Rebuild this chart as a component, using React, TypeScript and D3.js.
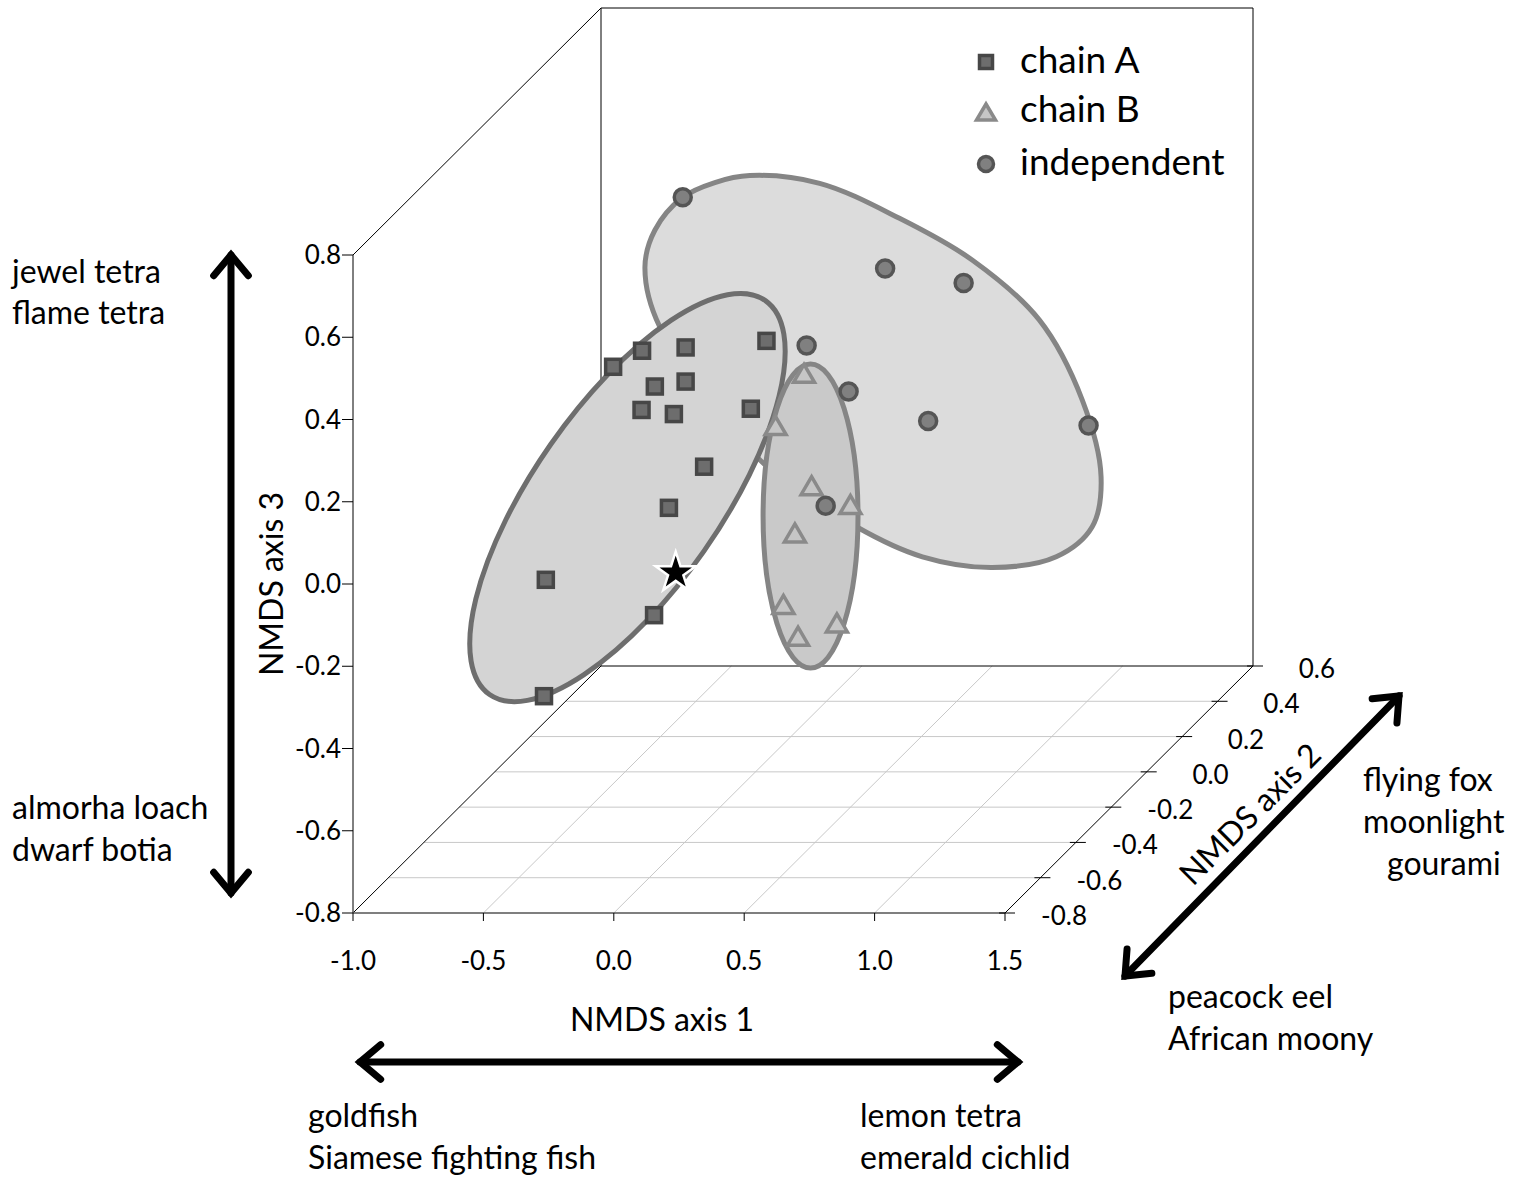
import React from 'react';
import * as d3 from 'd3';

// NMDS scores (axis 1, axis 3), all drawn on the axis-2 = 0 plane
const chainA: [number, number][] = [
  [-0.546, 0.185], [-0.435, 0.224], [-0.268, 0.232], [0.042, 0.248],
  [-0.386, 0.137], [-0.268, 0.149], [-0.437, 0.08], [-0.313, 0.07],
  [-0.018, 0.083], [-0.197, -0.058], [-0.332, -0.158], [-0.804, -0.333],
  [-0.389, -0.419], [-0.811, -0.616],
];
const chainB: [number, number][] = [
  [0.186, 0.169], [0.077, 0.042], [0.215, -0.104], [0.364, -0.15],
  [0.151, -0.219], [0.107, -0.393], [0.163, -0.47], [0.312, -0.438],
];
const independent: [number, number][] = [
  [-0.279, 0.597], [0.196, 0.237], [0.497, 0.424], [0.798, 0.389],
  [0.357, 0.125], [0.662, 0.053], [1.277, 0.042], [0.269, -0.153],
];
const starPoint: [number, number] = [-0.306, -0.316];

// group envelopes
const ellipseA = { cx: -0.491, cz: -0.133, major: 0.922, minor: 0.358, angle: 55 };
const ellipseB = { cx: 0.211, cz: -0.178, major: 0.583, minor: 0.182, angle: 90 };
const independentHull: [number, number][] = [
  [-0.279, 0.597], [-0.156, 0.633], [-0.022, 0.65], [0.246, 0.631], [0.552, 0.546],
  [0.832, 0.444], [1.088, 0.299], [1.253, 0.104], [1.325, -0.083], [1.291, -0.204],
  [1.153, -0.277], [0.908, -0.303], [0.64, -0.277], [0.387, -0.204], [0.016, -0.041],
  [-0.367, 0.282], [-0.424, 0.427], [-0.386, 0.517],
];

const axis1Ticks = [-1.0, -0.5, 0.0, 0.5, 1.0, 1.5];
const axis2Ticks = [-0.8, -0.6, -0.4, -0.2, 0.0, 0.2, 0.4, 0.6];
const axis3Ticks = [-0.8, -0.6, -0.4, -0.2, 0.0, 0.2, 0.4, 0.6, 0.8];

const legendItems = ['chain A', 'chain B', 'independent'];

const FONT = "Lato, 'Open Sans', sans-serif";

const x = d3.scaleLinear().domain([-1, 1.5]).range([353, 1005]);
const z = d3.scaleLinear().domain([-0.8, 0.8]).range([913, 255]);
const depthX = d3.scaleLinear().domain([-0.8, 0.6]).range([0, 248]);
const depthY = d3.scaleLinear().domain([-0.8, 0.6]).range([0, -247]);
const unitPx = x(1) - x(0);

const project = (a1: number, a2: number, a3: number): [number, number] => [
  x(a1) + depthX(a2),
  z(a3) + depthY(a2),
];
const onPlane = (p: [number, number]) => project(p[0], 0, p[1]);

// plain hyphen for negatives, like the original
const fmt = (v: number) => v.toFixed(1);

const Square = ({ p, s = 15 }: { p: [number, number]; s?: number }) => (
  <rect x={p[0] - s / 2} y={p[1] - s / 2} width={s} height={s}
    fill="#6d6d6d" stroke="#474747" strokeWidth={3.5} />
);
const Circle = ({ p, r = 8.5 }: { p: [number, number]; r?: number }) => (
  <circle cx={p[0]} cy={p[1]} r={r} fill="#808080" stroke="#555" strokeWidth={3.5} />
);
const Triangle = ({ p, w = 21, h = 18 }: { p: [number, number]; w?: number; h?: number }) => (
  <polygon
    points={`${p[0]},${p[1] - h / 2} ${p[0] + w / 2},${p[1] + h / 2} ${p[0] - w / 2},${p[1] + h / 2}`}
    fill="#c6c6c6" stroke="#8a8a8a" strokeWidth={3.5} strokeLinejoin="miter" />
);

const Arrow = ({ x1, y1, x2, y2 }: { x1: number; y1: number; x2: number; y2: number }) => {
  const ang = Math.atan2(y2 - y1, x2 - x1);
  const len = 27;
  const spread = (40 * Math.PI) / 180;
  const head = (tx: number, ty: number, dir: number) => {
    const a1 = dir + Math.PI - spread;
    const a2 = dir + Math.PI + spread;
    return `M${tx + len * Math.cos(a1)},${ty + len * Math.sin(a1)}L${tx},${ty}L${tx + len * Math.cos(a2)},${ty + len * Math.sin(a2)}`;
  };
  return (
    <g stroke="#000" strokeWidth={7} fill="none" strokeLinecap="round" strokeLinejoin="miter">
      <line x1={x1} y1={y1} x2={x2} y2={y2} />
      <path d={head(x2, y2, ang)} />
      <path d={head(x1, y1, ang + Math.PI)} />
    </g>
  );
};

export default function App() {
  const hullLine = d3.line().curve(d3.curveCatmullRomClosed.alpha(0.5));
  const hullPath = hullLine(independentHull.map(onPlane)) || '';

  const ellipseEl = (e: typeof ellipseA, fill: string, stroke: string) => {
    const [cx, cy] = onPlane([e.cx, e.cz]);
    return (
      <ellipse cx={cx} cy={cy} rx={e.major * unitPx} ry={e.minor * unitPx}
        transform={`rotate(${-e.angle},${cx},${cy})`}
        fill={fill} stroke={stroke} strokeWidth={5} />
    );
  };

  const star = d3.symbol(d3.symbolStar, 500)() || '';
  const sp = onPlane(starPoint);

  const frontLeftBottom = project(-1, -0.8, -0.8);
  const frontRightBottom = project(1.5, -0.8, -0.8);
  const backLeftBottom = project(-1, 0.6, -0.8);
  const backRightBottom = project(1.5, 0.6, -0.8);
  const frontLeftTop = project(-1, -0.8, 0.8);
  const backLeftTop = project(-1, 0.6, 0.8);
  const backRightTop = project(1.5, 0.6, 0.8);

  const big = 32;
  const tickSize = 26;

  return (
    <svg width={1528} height={1182} style={{ position: 'absolute', left: 0, top: 0, background: '#fff' }}
      fontFamily={FONT}>
      {/* floor grid */}
      <g stroke="#c8c8c8" strokeWidth={1}>
        {axis2Ticks.slice(1, -1).map(d => {
          const a = project(-1, d, -0.8);
          const b = project(1.5, d, -0.8);
          return <line key={'g2' + d} x1={a[0]} y1={a[1]} x2={b[0]} y2={b[1]} />;
        })}
        {axis1Ticks.slice(1, -1).map(v => {
          const a = project(v, -0.8, -0.8);
          const b = project(v, 0.6, -0.8);
          return <line key={'g1' + v} x1={a[0]} y1={a[1]} x2={b[0]} y2={b[1]} />;
        })}
      </g>

      {/* box frame */}
      <g stroke="#000" strokeWidth={1} fill="none">
        <line x1={frontLeftBottom[0]} y1={frontLeftBottom[1]} x2={backLeftBottom[0]} y2={backLeftBottom[1]} />
        <line x1={frontRightBottom[0]} y1={frontRightBottom[1]} x2={backRightBottom[0]} y2={backRightBottom[1]} />
        <line x1={frontLeftTop[0]} y1={frontLeftTop[1]} x2={backLeftTop[0]} y2={backLeftTop[1]} />
        <polygon points={[backLeftBottom, backRightBottom, backRightTop, backLeftTop].map(p => p.join(',')).join(' ')} />
        <line x1={frontLeftBottom[0]} y1={frontLeftBottom[1]} x2={frontLeftTop[0]} y2={frontLeftTop[1]} />
        <line x1={frontLeftBottom[0]} y1={frontLeftBottom[1]} x2={frontRightBottom[0]} y2={frontRightBottom[1]} stroke="#555" strokeWidth={1.5} />
      </g>

      {/* axis 3 ticks */}
      <g>
        {axis3Ticks.map(v => (
          <g key={'t3' + v}>
            <line x1={x(-1) - 11} x2={x(-1)} y1={z(v)} y2={z(v)} stroke="#000" />
            <text x={x(-1) - 12} y={z(v)} dy="0.35em" textAnchor="end" fontSize={tickSize}>{fmt(v)}</text>
          </g>
        ))}
      </g>
      {/* axis 1 ticks */}
      <g>
        {axis1Ticks.map(v => (
          <g key={'t1' + v}>
            <line x1={x(v)} x2={x(v)} y1={z(-0.8)} y2={z(-0.8) + 8} stroke="#000" />
            <text x={x(v)} y={970} textAnchor="middle" fontSize={tickSize}>{fmt(v)}</text>
          </g>
        ))}
      </g>
      {/* axis 2 ticks */}
      <g>
        {axis2Ticks.map(d => {
          const p = project(1.5, d, -0.8);
          return (
            <g key={'t2' + d}>
              <line x1={p[0] - 6} x2={p[0] + 10} y1={p[1]} y2={p[1]} stroke="#000" />
              <text x={p[0] + 82} y={p[1] + 12} textAnchor="end" fontSize={tickSize}>{fmt(d)}</text>
            </g>
          );
        })}
      </g>

      {/* envelopes */}
      <path d={hullPath} fill="#dcdcdc" stroke="#858585" strokeWidth={5} />
      {ellipseEl(ellipseA, '#d4d4d4', '#6e6e6e')}
      {ellipseEl(ellipseB, '#c9c9c9', '#858585')}

      {/* points */}
      {chainA.map((p, i) => <Square key={'a' + i} p={onPlane(p)} />)}
      {chainB.map((p, i) => <Triangle key={'b' + i} p={onPlane(p)} />)}
      {independent.map((p, i) => <Circle key={'c' + i} p={onPlane(p)} />)}
      <path d={star} transform={`translate(${sp[0]},${sp[1]})`} fill="#000" stroke="#fff" strokeWidth={2.5} />

      {/* legend */}
      <g fontSize={37}>
        <Square p={[986, 62]} s={13} />
        <Triangle p={[986, 112]} w={19} h={16} />
        <Circle p={[986, 164]} r={7.5} />
        {legendItems.map((t, i) => (
          <text key={t} x={1020} y={[73, 122, 175][i]}>{t}</text>
        ))}
      </g>

      {/* axis titles */}
      <text x={662} y={1031} textAnchor="middle" fontSize={big}>NMDS axis 1</text>
      <text transform="translate(283,584) rotate(-90)" textAnchor="middle" fontSize={big}>NMDS axis 3</text>
      <text transform="translate(1258,822) rotate(-45)" textAnchor="middle" fontSize={big}>NMDS axis 2</text>

      {/* direction arrows */}
      <Arrow x1={231} y1={893} x2={231} y2={255} />
      <Arrow x1={360} y1={1062} x2={1018} y2={1062} />
      <Arrow x1={1125} y1={976} x2={1399} y2={696} />

      {/* end-member species */}
      <g fontSize={big}>
        <text x={12} y={283}>jewel tetra</text>
        <text x={12} y={324}>flame tetra</text>
        <text x={12} y={819}>almorha loach</text>
        <text x={12} y={861}>dwarf botia</text>
        <text x={308} y={1127}>goldfish</text>
        <text x={308} y={1169}>Siamese fighting fish</text>
        <text x={860} y={1127}>lemon tetra</text>
        <text x={860} y={1169}>emerald cichlid</text>
        <text x={1363} y={791}>flying fox</text>
        <text x={1363} y={833}>moonlight</text>
        <text x={1387} y={875}>gourami</text>
        <text x={1168} y={1008}>peacock eel</text>
        <text x={1168} y={1050}>African moony</text>
      </g>
    </svg>
  );
}
